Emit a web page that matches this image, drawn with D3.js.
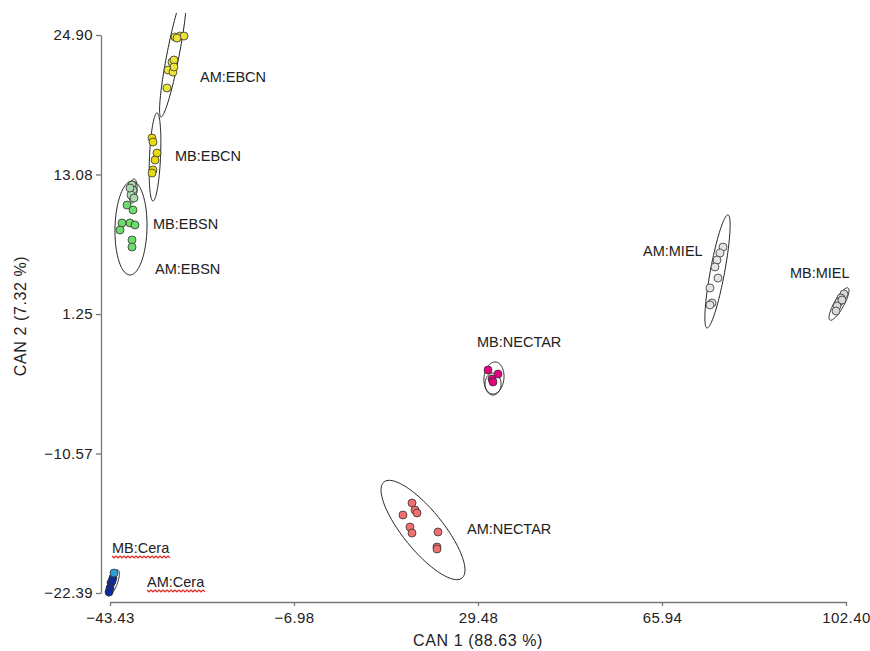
<!DOCTYPE html>
<html>
<head>
<meta charset="utf-8">
<script src="https://cdn.jsdelivr.net/npm/d3@7"></script>
<style>
  body { margin: 0; background: #fff; }
  text { font-family: "Liberation Sans", Arial, sans-serif; fill: #222; }
</style>
</head>
<body>
<div class="chart-container"></div>
<script>
//! DATA (canonical scores, CAN 1 / CAN 2)
const xTicks = [-43.43, -6.98, 29.48, 65.94, 102.40]
const yTicks = [-22.39, -10.57, 1.25, 13.08, 24.90]

const ptsAmEbcn = [[-30.55, 24.73], [-29.56, 24.81], [-28.77, 24.81], [-30.15, 24.64], [-31.15, 22.61],
  [-30.75, 22.78], [-31.94, 21.93], [-30.95, 21.76], [-30.75, 22.19], [-32.14, 20.41]]
const ptsMbEbcn = [[-35.11, 16.17], [-34.91, 15.83], [-34.12, 14.90], [-34.51, 14.30], [-34.91, 13.46], [-35.11, 13.20]]
const ptsMbEbsn = [[-39.07, 12.19], [-38.87, 11.76], [-39.27, 11.34], [-38.68, 11.08], [-39.47, 11.93]]
const ptsAmEbsn = [[-40.06, 10.49], [-38.87, 10.07], [-41.05, 8.97], [-39.47, 8.97], [-38.48, 8.80],
  [-41.45, 8.37], [-39.07, 7.53], [-39.07, 6.93]]
const ptsAmMiel = [[78.03, 6.93], [77.43, 6.42], [76.84, 5.83], [76.44, 5.24], [77.04, 4.30], [75.45, 3.46], [75.85, 2.19], [75.45, 2.02]]
const ptsMbMiel = [[102.0, 2.95], [101.41, 2.61], [101.01, 2.27], [100.62, 1.93], [100.42, 1.51], [101.61, 2.44]]
const ptsMbNectar = [[31.47, -3.49], [33.45, -3.83], [32.26, -4.25], [32.46, -4.51]]
const ptsAmNectar = [[16.41, -14.76], [17.00, -15.36], [17.40, -15.61], [14.62, -15.78], [16.01, -16.80],
  [16.41, -17.31], [21.56, -17.22], [21.36, -18.49], [21.36, -18.66]]
const ptsCera = [[-42.84, -21.12], [-43.23, -21.54], [-43.03, -21.37], [-43.43, -21.97], [-43.63, -22.31]]
const ptsCeraLight = [[-42.64, -20.70]]

// confidence ellipses: centre x, centre y, semi-axis 1 (dx, dy), semi-axis 2 (dx, dy)
const ellipses = [
  [-30.95, 23.20, 2.38, 5.25, 1.19, -0.10],
  [-34.51, 14.56, 0.40, 3.73, 1.09, -0.03],
  [-38.87, 11.68, 0.20, 1.02, 0.79, 0.00],
  [-39.27, 8.54, 0.20, 3.98, 3.17, 0.00],
  [76.94, 4.86, 2.08, 4.79, 1.39, -0.11],
  [101.01, 2.10, 1.78, 1.36, 0.85, -0.20],
  [32.65, -4.17, 0.20, 1.36, 1.98, 0.00],
  [32.46, -4.68, 0.00, 0.93, 1.59, 0.00],
  [18.59, -17.05, 7.73, -4.07, 3.07, 1.07],
  [-42.84, -21.54, 0.99, 1.10, 0.79, -0.13]
]

const labelNames = ['AM:EBCN', 'MB:EBCN', 'MB:EBSN', 'AM:EBSN', 'AM:MIEL', 'MB:MIEL', 'MB:NECTAR', 'AM:NECTAR', 'MB:Cera', 'AM:Cera']
const labelX = [-25.60, -30.55, -34.91, -34.51, 62.18, 91.30, 29.29, 27.30, -43.03, -36.10]
const labelY = [21.34, 14.64, 8.88, 5.07, 6.59, 4.73, -1.12, -16.97, -18.58, -21.46]
const squiggled = ['MB:Cera', 'AM:Cera']

//! CONSTS
const WIDTH = 870
const HEIGHT = 651

const svg = d3.select('.chart-container')
  .append('svg')
  .attr('width', WIDTH)
  .attr('height', HEIGHT)

//! SCALES
const xScale = d3.scaleLinear().domain([-43.43, 102.40]).range([110, 846])
const yScale = d3.scaleLinear().domain([-22.39, 24.90]).range([593, 35])

//! AXES
const yAxis = d3.axisLeft(yScale).tickValues(yTicks).tickFormat(d3.format('.2f')).tickSize(5).tickSizeOuter(0).tickPadding(3)
const xAxis = d3.axisBottom(xScale).tickValues(xTicks).tickFormat(d3.format('.2f')).tickSize(4).tickSizeOuter(0).tickPadding(6)

const gy = svg.append('g').attr('transform', 'translate(101,0)').call(yAxis)
const gx = svg.append('g').attr('transform', 'translate(0,602)').call(xAxis)

;[gx, gy].forEach(g => {
  g.selectAll('path, line').attr('stroke', '#777').attr('stroke-width', 1.3)
  g.selectAll('text').attr('font-size', 15).attr('fill', '#222')
    .style('font-family', '"Liberation Sans", Arial, sans-serif').attr('letter-spacing', 0.4)
})

svg.append('text')
  .attr('x', 478).attr('y', 646)
  .attr('text-anchor', 'middle')
  .attr('font-size', 16).attr('letter-spacing', 0.6)
  .text('CAN 1 (88.63 %)')

svg.append('text')
  .attr('transform', 'translate(26,316) rotate(-90)')
  .attr('text-anchor', 'middle')
  .attr('font-size', 16).attr('letter-spacing', 0.6)
  .text('CAN 2 (7.32 %)')

//! PLOT
svg.append('clipPath').attr('id', 'clip')
  .append('rect').attr('x', 95).attr('y', 13).attr('width', 770).attr('height', 600)

const plot = svg.append('g').attr('clip-path', 'url(#clip)')

const angles = d3.range(0, 2 * Math.PI + 0.01, Math.PI / 60)
const ellLine = d3.line()

plot.selectAll('path.ell')
  .data(ellipses)
  .enter()
  .append('path')
  .attr('class', 'ell')
  .attr('fill', 'none')
  .attr('stroke', '#222')
  .attr('stroke-width', 1)
  .attr('d', e => ellLine(angles.map(t => [
    xScale(e[0] + e[2] * Math.cos(t) + e[4] * Math.sin(t)),
    yScale(e[1] + e[3] * Math.cos(t) + e[5] * Math.sin(t))
  ])) + 'Z')

const series = [
  { pts: ptsAmEbcn, fill: '#ece43a' },
  { pts: ptsMbEbcn, fill: '#e8dc10' },
  { pts: ptsMbEbsn, fill: '#a9d9ac' },
  { pts: ptsAmEbsn, fill: '#6ddc6d' },
  { pts: ptsAmMiel, fill: '#e4e4e4' },
  { pts: ptsMbMiel, fill: '#d8d8d8' },
  { pts: ptsMbNectar, fill: '#e6007e' },
  { pts: ptsAmNectar, fill: '#f07070' },
  { pts: ptsCera, fill: '#0c2a9c' },
  { pts: ptsCeraLight, fill: '#2aa0d8' }
]

series.forEach(s => {
  plot.append('g')
    .selectAll('circle')
    .data(s.pts)
    .enter()
    .append('circle')
    .attr('cx', d => xScale(d[0]))
    .attr('cy', d => yScale(d[1]))
    .attr('r', 4)
    .attr('fill', s.fill)
    .attr('stroke', '#333')
    .attr('stroke-width', 0.8)
})

//! LABELS
const labels = svg.append('g')
  .selectAll('text')
  .data(labelNames)
  .enter()
  .append('text')
  .attr('x', (d, i) => xScale(labelX[i]))
  .attr('y', (d, i) => yScale(labelY[i]))
  .attr('dy', '0.35em')
  .attr('font-size', 14.5)
  .attr('fill', '#1a1a1a')
  .text(d => d)

// red spell-check squiggle under two labels
labels.filter(d => squiggled.includes(d)).each(function () {
  const b = this.getBBox()
  const y0 = b.y + b.height + 0.5
  const pts = d3.range(b.x, b.x + b.width, 2).map((x, i) => [x, y0 + (i % 2 ? 1.2 : -0.6)])
  svg.append('path')
    .attr('d', d3.line()(pts))
    .attr('fill', 'none')
    .attr('stroke', '#e0302a')
    .attr('stroke-width', 1.3)
})
</script>
</body>
</html>
